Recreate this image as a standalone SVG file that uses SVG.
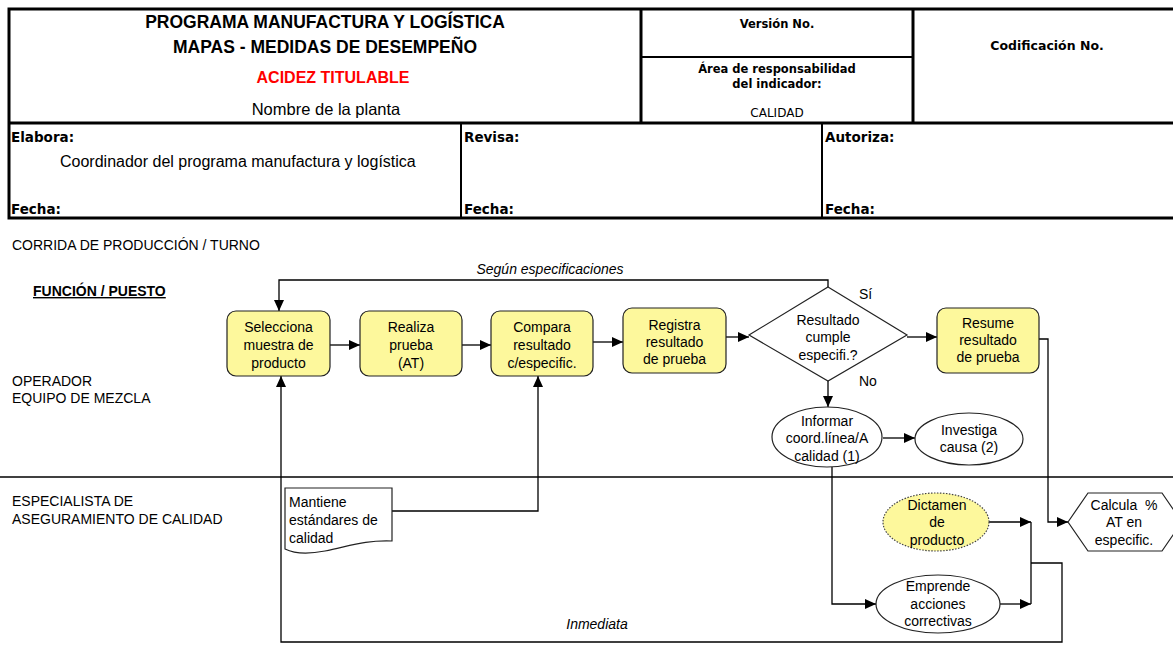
<svg xmlns="http://www.w3.org/2000/svg" width="1173" height="648" viewBox="0 0 1173 648">
  <style>
    .frame { fill: none; stroke: #000; stroke-width: 3; }
    .thin { fill: none; stroke: #000; stroke-width: 2; }
    .title { font-family: "Liberation Sans", Arial, sans-serif; font-size: 17.5px; font-weight: bold; text-anchor: middle; fill: #000; }
    .plain16 { font-family: "Liberation Sans", Arial, sans-serif; font-size: 16px; fill: #000; }
    .hdr { font-family: "DejaVu Sans", Verdana, sans-serif; font-size: 11.5px; font-weight: bold; text-anchor: middle; fill: #000; }
    .hdrn { font-family: "DejaVu Sans", Verdana, sans-serif; font-size: 12px; text-anchor: middle; fill: #000; }
    .sign { font-family: "DejaVu Sans", Verdana, sans-serif; font-size: 13.5px; font-weight: bold; fill: #000; }
    .lbl { font-family: "Liberation Sans", Arial, sans-serif; font-size: 14px; fill: #000; }
    .lblb { font-family: "Liberation Sans", Arial, sans-serif; font-size: 14px; font-weight: bold; text-decoration: underline; fill: #000; }
    .nt { font-family: "Liberation Sans", Arial, sans-serif; font-size: 14px; text-anchor: middle; fill: #000; }
    .ntl { font-family: "Liberation Sans", Arial, sans-serif; font-size: 14px; fill: #000; }
    .it { font-family: "Liberation Sans", Arial, sans-serif; font-size: 14px; font-style: italic; fill: #000; text-anchor: middle; }
    .box { fill: #fdf89c; stroke: #222; stroke-width: 1.2; }
    .shape { fill: #fff; stroke: #222; stroke-width: 1.2; }
    .dict { fill: #fdf89c; stroke: #444; stroke-width: 1.2; stroke-dasharray: 1.5 1.5; }
    .lane { stroke: #000; stroke-width: 1.5; fill: none; }
    .conn { fill: none; stroke: #000; stroke-width: 1.3; }
    .arrow { fill: none; stroke: #000; stroke-width: 1.3; marker-end: url(#ah); }
  </style>
  <defs>
    <marker id="ah" markerUnits="userSpaceOnUse" markerWidth="12" markerHeight="10" refX="11" refY="5" orient="auto">
      <path d="M0,0 L11,5 L0,10 z" fill="#000"/>
    </marker>
  </defs>

  <rect width="1173" height="648" fill="#fff"/>

  <!-- header form -->
  <g id="header">
    <path class="frame" d="M1173,9 H9 V218 H1173"/>
    <line class="frame" x1="9" y1="123" x2="1173" y2="123"/>
    <line class="frame" x1="641" y1="9" x2="641" y2="123"/>
    <line class="frame" x1="913" y1="9" x2="913" y2="123"/>
    <line class="thin" x1="641" y1="57" x2="913" y2="57"/>
    <line class="thin" x1="461" y1="123" x2="461" y2="218"/>
    <line class="thin" x1="822" y1="123" x2="822" y2="218"/>

    <text class="title" x="325" y="28">PROGRAMA MANUFACTURA Y LOGÍSTICA</text>
    <text class="title" x="325" y="53">MAPAS - MEDIDAS DE DESEMPEÑO</text>
    <text class="title" x="333" y="83" style="fill:#ff0000;font-size:16px">ACIDEZ TITULABLE</text>
    <text class="plain16" x="326" y="115" text-anchor="middle" style="font-size:16.5px">Nombre de la planta</text>

    <text class="hdr" x="777" y="28">Versión No.</text>
    <text class="hdr" x="777" y="73">Área de responsabilidad</text>
    <text class="hdr" x="777" y="88">del indicador:</text>
    <text class="hdrn" x="777" y="117">CALIDAD</text>
    <text class="hdr" x="1047" y="50" style="font-size:12.5px">Codificación No.</text>

    <text class="sign" x="11" y="142">Elabora:</text>
    <text class="plain16" x="60" y="167">Coordinador del programa manufactura y logística</text>
    <text class="sign" x="11" y="214">Fecha:</text>
    <text class="sign" x="464" y="142">Revisa:</text>
    <text class="sign" x="464" y="214">Fecha:</text>
    <text class="sign" x="825" y="142">Autoriza:</text>
    <text class="sign" x="825" y="214">Fecha:</text>
  </g>

  <!-- swimlane labels -->
  <g id="lanes">
    <text class="lbl" x="12" y="250">CORRIDA DE PRODUCCIÓN / TURNO</text>
    <text class="lblb" x="33" y="296">FUNCIÓN / PUESTO</text>
    <text class="lbl" x="12" y="386">OPERADOR</text>
    <text class="lbl" x="12" y="403">EQUIPO DE MEZCLA</text>
    <text class="lbl" x="12" y="506">ESPECIALISTA DE</text>
    <text class="lbl" x="12" y="524">ASEGURAMIENTO DE CALIDAD</text>
    <line class="lane" x1="0" y1="477" x2="1173" y2="477"/>
  </g>

  <!-- connectors -->
  <g id="connectors">
    <line class="arrow" x1="330" y1="345" x2="360" y2="345"/>
    <line class="arrow" x1="462" y1="345" x2="491" y2="345"/>
    <line class="arrow" x1="593" y1="342" x2="623" y2="342"/>
    <line class="arrow" x1="726" y1="337" x2="749" y2="337"/>
    <line class="arrow" x1="907" y1="337" x2="937" y2="337"/>
    <path class="arrow" d="M828,287 V280 H279 V311"/>
    <line class="arrow" x1="828" y1="381" x2="828" y2="407"/>
    <line class="arrow" x1="883" y1="438" x2="915" y2="438"/>
    <path class="arrow" d="M832,467 V604 H876"/>
    <path class="arrow" d="M392,511 H538 V376"/>
    <path class="arrow" d="M1039,339 H1048 V522 H1068"/>
    <line class="arrow" x1="989" y1="522" x2="1031" y2="522"/>
    <line class="arrow" x1="1000" y1="604" x2="1031" y2="604"/>
    <line class="conn" x1="1031" y1="522" x2="1031" y2="604"/>
    <path class="arrow" d="M1031,563 H1062 V642 H281 V376"/>
    <text class="it" x="550" y="274">Según especificaciones</text>
    <text class="it" x="597" y="629">Inmediata</text>
    <text class="ntl" x="859" y="299">Sí</text>
    <text class="ntl" x="859" y="386">No</text>
  </g>

  <!-- process nodes -->
  <g id="selecciona">
    <rect class="box" x="227" y="311" width="103" height="65" rx="9"/>
    <text class="nt" x="278.5" y="332">Selecciona</text>
    <text class="nt" x="278.5" y="350">muestra de</text>
    <text class="nt" x="278.5" y="368">producto</text>
  </g>
  <g id="realiza">
    <rect class="box" x="360" y="311" width="102" height="65" rx="9"/>
    <text class="nt" x="411" y="332">Realiza</text>
    <text class="nt" x="411" y="350">prueba</text>
    <text class="nt" x="411" y="368">(AT)</text>
  </g>
  <g id="compara">
    <rect class="box" x="491" y="311" width="102" height="65" rx="9"/>
    <text class="nt" x="542" y="332">Compara</text>
    <text class="nt" x="542" y="350">resultado</text>
    <text class="nt" x="542" y="368">c/especific.</text>
  </g>
  <g id="registra">
    <rect class="box" x="623" y="308" width="103" height="65" rx="9"/>
    <text class="nt" x="674.5" y="330">Registra</text>
    <text class="nt" x="674.5" y="347">resultado</text>
    <text class="nt" x="674.5" y="364">de prueba</text>
  </g>
  <g id="decision">
    <polygon class="shape" points="828,287 907,335 828,381 749,335"/>
    <text class="nt" x="828" y="325">Resultado</text>
    <text class="nt" x="828" y="342">cumple</text>
    <text class="nt" x="828" y="360">especifi.?</text>
  </g>
  <g id="resume">
    <rect class="box" x="937" y="308" width="102" height="65" rx="9"/>
    <text class="nt" x="988" y="328">Resume</text>
    <text class="nt" x="988" y="345">resultado</text>
    <text class="nt" x="988" y="362">de prueba</text>
  </g>
  <g id="informar">
    <ellipse class="shape" cx="827" cy="437" rx="55" ry="30"/>
    <text class="nt" x="827" y="426">Informar</text>
    <text class="nt" x="827" y="443">coord.línea/A</text>
    <text class="nt" x="827" y="461">calidad (1)</text>
  </g>
  <g id="investiga">
    <ellipse class="shape" cx="969" cy="439" rx="54" ry="26"/>
    <text class="nt" x="969" y="435">Investiga</text>
    <text class="nt" x="969" y="452">causa (2)</text>
  </g>
  <g id="mantiene">
    <path class="shape" d="M285,488 H392 V541 C365,540 350,546 325,551 C305,555 293,553 285,549 Z"/>
    <text class="ntl" x="289" y="507">Mantiene</text>
    <text class="ntl" x="289" y="525">estándares de</text>
    <text class="ntl" x="289" y="543">calidad</text>
  </g>
  <g id="dictamen">
    <ellipse class="dict" cx="936" cy="522" rx="53" ry="29"/>
    <text class="nt" x="937" y="510">Dictamen</text>
    <text class="nt" x="937" y="527">de</text>
    <text class="nt" x="937" y="545">producto</text>
  </g>
  <g id="emprende">
    <ellipse class="shape" cx="938" cy="604" rx="62" ry="29"/>
    <text class="nt" x="938" y="591">Emprende</text>
    <text class="nt" x="938" y="609">acciones</text>
    <text class="nt" x="938" y="626">correctivas</text>
  </g>
  <g id="calcula">
    <polygon class="shape" points="1068,522 1088,493 1162,493 1182,522 1162,551 1088,551"/>
    <text class="nt" x="1124" y="510" xml:space="preserve">Calcula  %</text>
    <text class="nt" x="1124" y="527">AT en</text>
    <text class="nt" x="1124" y="545">especific.</text>
  </g>
</svg>
